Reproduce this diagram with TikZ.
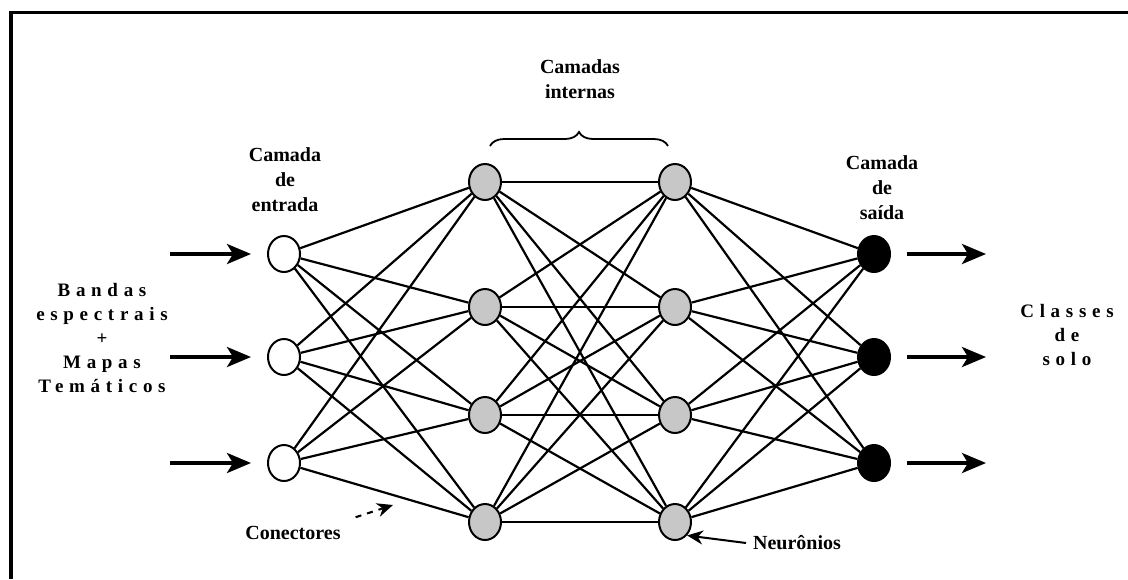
\documentclass[tikz,border=0pt]{standalone}
\usepackage{fontspec}
\setmainfont{Liberation Serif}
\newfontfamily\spacedfont[LetterSpace=30]{Liberation Serif}
\usetikzlibrary{arrows.meta,decorations.pathreplacing,shapes.geometric}

\begin{document}
\begin{tikzpicture}[x=0.5pt,y=-0.5pt,
  neuron/.style={ellipse,draw,line width=1pt,minimum width=16pt,minimum height=18pt,inner sep=0pt},
  inneuron/.style={neuron,fill=white},
  hidneuron/.style={neuron,fill=black!22},
  outneuron/.style={neuron,fill=black},
  conn/.style={line width=1.1pt},
  feed/.style={line width=1.8pt,-{Stealth[length=12pt,width=10pt,inset=3pt]}},
  lbl/.style={font=\bfseries\fontsize{10}{12.5}\selectfont,align=center},
  spaced/.style={font=\spacedfont\bfseries\fontsize{9.5}{12}\selectfont,align=center}]
\useasboundingbox (0,0) rectangle (1128,579);
\draw[line width=1.6pt] (11,579) -- (11,12.5) -- (1128,12.5);
% neurons
\foreach \n/\y in {1/254,2/357,3/463} {
  \node[inneuron] (i\n) at (284,\y) {};
  \node[outneuron] (o\n) at (874,\y) {};
}
\foreach \n/\y in {1/182,2/307,3/415,4/522} {
  \node[hidneuron] (h\n) at (485,\y) {};
  \node[hidneuron] (k\n) at (675,\y) {};
}
% connectors
\foreach \a in {1,2,3} \foreach \b in {1,...,4} \draw[conn] (i\a) -- (h\b);
\foreach \a in {1,...,4} \foreach \b in {1,...,4} \draw[conn] (h\a) -- (k\b);
\foreach \a in {1,...,4} \foreach \b in {1,2,3} \draw[conn] (k\a) -- (o\b);
% in and out
\foreach \n/\y in {1/254,2/357,3/463} {
  \coordinate (s\n) at (170,\y);
  \coordinate (t\n) at (986,\y);
  \draw[feed,shorten >=8pt] (s\n) -- (i\n.west);
  \draw[feed,shorten <=8pt] (o\n.east) -- (t\n);
}
% labels
\node[lbl] (inlbl) at (285,180) {Camada\\de\\entrada};
\node[lbl] (outlbl) at (882,188) {Camada\\de\\saída};
\node[lbl] (hidlbl) at (580,79) {Camadas\\internas};
\draw[line width=0.9pt,decorate,decoration={brace,amplitude=7pt}] (490,146) -- (668,146);
\node[spaced] (inputs) at (102,338) {Bandas\\espectrais\\+\\Mapas\\Temáticos};
\node[spaced] (classes) at (1067,335) {Classes\\de\\solo};
\node[lbl] (connlbl) at (293,533) {Conectores};
\coordinate (connend) at (393,505);
\draw[line width=1pt,dashed,-{Stealth[length=8pt,width=7pt]}] (connlbl.north east) ++(8,-2) -- (connend);
\node[lbl] (neulbl) at (797,543) {Neurônios};
\draw[line width=1pt,-{Stealth[length=8pt,width=7pt]}] (neulbl.west) -- (k4.south east);
\end{tikzpicture}
\end{document}
